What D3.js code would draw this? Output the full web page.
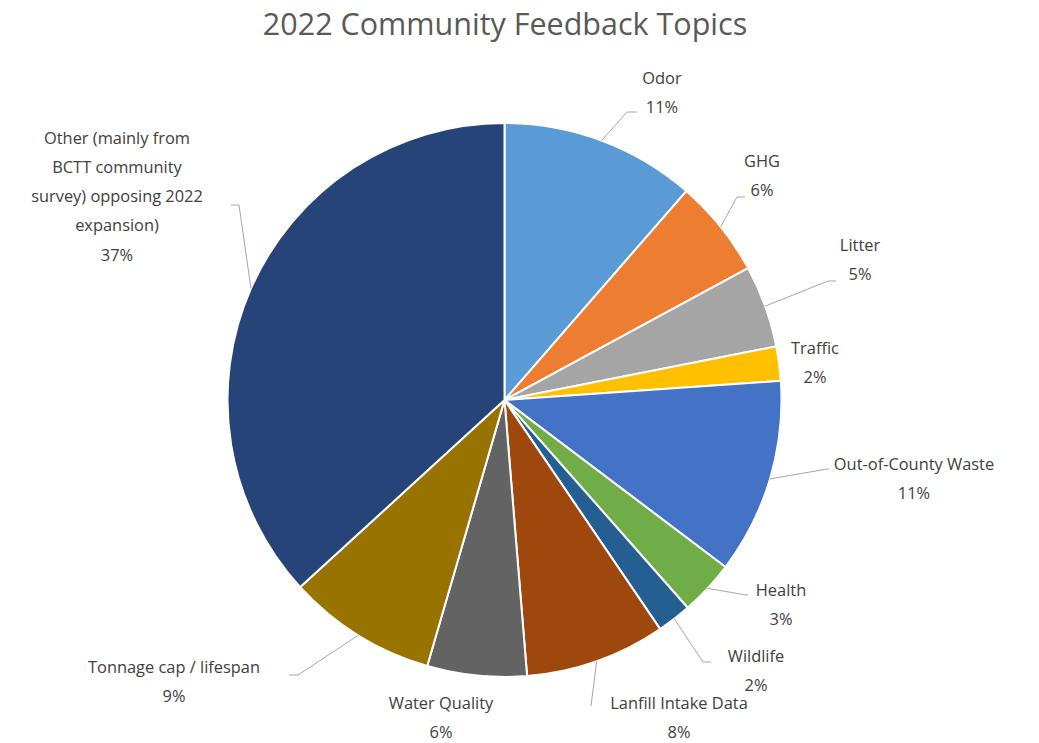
<!DOCTYPE html>
<html>
<head>
	<title>2022 Community Feedback Topics</title>
	<script src="https://d3js.org/d3.v7.min.js"></script>
	<style>
		body { margin: 0; background: #fff; }
		svg { font-family: "Open Sans", "Noto Sans", sans-serif; }
	</style>
</head>
<body>
<section id="container"></section>
<script>

//Data
var categories = ["Odor", "GHG", "Litter", "Traffic", "Out-of-County Waste", "Health", "Wildlife",
	"Lanfill Intake Data", "Water Quality", "Tonnage cap / lifespan",
	"Other (mainly from BCTT community survey) opposing 2022 expansion)"];
var values = [11.4, 5.7, 4.8, 2.0, 11.4, 3.2, 2.0, 8.2, 5.8, 8.7, 36.8];
var colors = ["#5B9BD5", "#ED7D31", "#A5A5A5", "#FFC000", "#4472C4", "#70AD47", "#255E91",
	"#9E480E", "#636363", "#997300", "#264478"];

//Label layout: text centre x, first line y, leader elbow [x,y] and end x (or null)
var labelLayout = [
	{x: 662, y: 77, elbow: [627, 112], end: 637},
	{x: 762, y: 160, elbow: [737, 197], end: 745},
	{x: 860, y: 244, elbow: [828, 281], end: 836},
	{x: 815, y: 347, elbow: null},
	{x: 914, y: 463, elbow: [827, 469], end: 829},
	{x: 781, y: 589, elbow: [746, 595], end: 748},
	{x: 756, y: 655, elbow: [703, 662], end: 711},
	{x: 679, y: 702, elbow: [591, 706], end: 591},
	{x: 441, y: 702, elbow: null},
	{x: 174, y: 666, elbow: [298, 675], end: 289},
	{x: 117, y: 137, elbow: [239, 205], end: 231,
		lines: ["Other (mainly from", "BCTT community", "survey) opposing 2022", "expansion)"]}
];

var width = 1039, height = 743;
var cx = 504.5, cy = 400, radius = 277;
var lineHeight = 29.3;

var svg = d3.select("#container")
	.append("svg")
	.attr("width", width)
	.attr("height", height);

//Title
svg.append("text")
	.attr("x", 505)
	.attr("y", 35)
	.attr("text-anchor", "middle")
	.attr("font-size", 30.5)
	.attr("fill", "#595959")
	.text("2022 Community Feedback Topics");

var total = d3.sum(values);
var rows = categories.map(function(c, i) {
	return {name: c, value: values[i], color: colors[i], layout: labelLayout[i]};
});

var pie = d3.pie()
	.sort(null)
	.value(function(d) { return d.value; });

var arc = d3.arc()
	.innerRadius(0)
	.outerRadius(radius);

var arcs = pie(rows);

var g = svg.append("g")
	.attr("transform", "translate(" + cx + "," + cy + ")");

g.selectAll("path.slice")
	.data(arcs)
	.enter()
	.append("path")
	.attr("class", "slice")
	.attr("d", arc)
	.attr("fill", function(d) { return d.data.color; })
	.attr("stroke", "#fff")
	.attr("stroke-width", 2)
	.attr("stroke-linejoin", "round");

//Leader lines start at outer edge, mid angle
svg.selectAll("polyline.leader")
	.data(arcs.filter(function(d) { return d.data.layout.elbow; }))
	.enter()
	.append("polyline")
	.attr("class", "leader")
	.attr("fill", "none")
	.attr("stroke", "#a6a6a6")
	.attr("stroke-width", 1)
	.attr("points", function(d) {
		var a = (d.startAngle + d.endAngle) / 2;
		var sx = cx + Math.sin(a) * radius;
		var sy = cy - Math.cos(a) * radius;
		var l = d.data.layout;
		return [[sx, sy], l.elbow, [l.end, l.elbow[1]]].map(function(p) { return p.join(","); }).join(" ");
	});

//Labels
var labels = svg.selectAll("text.label")
	.data(arcs)
	.enter()
	.append("text")
	.attr("class", "label")
	.attr("text-anchor", "middle")
	.attr("font-size", 16.4)
	.attr("fill", "#404040");

labels.each(function(d) {
	var l = d.data.layout;
	var lines = (l.lines || [d.data.name]).concat([Math.round(d.data.value / total * 100) + "%"]);
	d3.select(this).selectAll("tspan")
		.data(lines)
		.enter()
		.append("tspan")
		.attr("x", l.x)
		.attr("y", function(t, i) { return l.y + i * lineHeight; })
		.attr("dominant-baseline", "central")
		.text(function(t) { return t; });
});

</script>
</body>
</html>
